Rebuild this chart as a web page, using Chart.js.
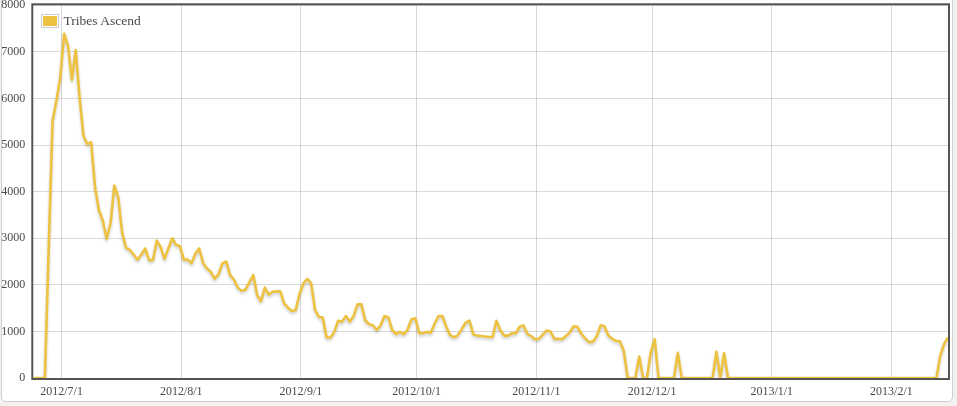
<!DOCTYPE html>
<html>
<head>
<meta charset="utf-8">
<script src="https://cdn.jsdelivr.net/npm/chart.js@4.4.1/dist/chart.umd.min.js"></script>
<style>
html,body{margin:0;padding:0;background:#f1f1f1;width:957px;height:406px;overflow:hidden;}
#frame{position:absolute;left:1px;top:-10px;width:950px;height:410px;border:1px solid #cfcfcf;border-radius:5px;background:#fff;}
#c{position:absolute;left:0;top:0;}
#legend{position:absolute;left:41px;top:14px;font-family:"Liberation Serif",serif;font-size:13.5px;line-height:14px;color:#4a4a4a;display:flex;align-items:center;z-index:2;}
#legend .sw{border:1px solid #ccc;padding:1px;background:#fff;}
#legend .sw div{width:14px;height:10px;}
#legend .tx{margin-left:4.5px;white-space:nowrap;}
</style>
</head>
<body>
<div id="frame"></div>
<canvas id="c" width="957" height="406"></canvas>
<div id="legend"></div>
<script>
// ---- data ----
const seriesLabel = 'Tribes Ascend';
const seriesColor = '#edc240';
const startDate = '2012/6/24';
const utcOffsetHours = 8;
const monthLabels = ['2012/7/1','2012/8/1','2012/9/1','2012/10/1','2012/11/1','2012/12/1','2013/1/1','2013/2/1'];
const yTickStep = 1000;
const yMax = 8000;
// daily values from startDate
const visitors = [
  0,0,0,0,2800,5520,5950,6450,7390,7130,
  6400,7040,6020,5200,5020,5060,4100,3600,3380,2990,
  3310,4130,3880,3130,2800,2750,2650,2540,2650,2780,
  2530,2530,2950,2810,2560,2780,3000,2860,2830,2540,
  2540,2460,2670,2780,2470,2350,2280,2130,2230,2460,
  2500,2210,2110,1940,1870,1900,2060,2210,1780,1650,
  1940,1790,1850,1860,1860,1600,1510,1440,1460,1810,
  2030,2130,2030,1460,1310,1300,870,870,990,1230,
  1210,1330,1210,1330,1580,1580,1240,1160,1130,1030,
  1130,1330,1300,1030,940,990,940,1040,1260,1280,
  960,960,990,970,1170,1330,1330,1100,920,870,
  920,1050,1190,1230,940,910,900,890,880,880,
  1230,1030,910,910,960,960,1100,1130,950,900,
  830,840,930,1020,1000,840,840,830,900,980,
  1110,1100,950,850,770,780,900,1130,1110,910,
  840,800,790,580,0,0,0,460,0,0,
  550,830,0,0,0,0,0,540,0,0,
  0,0,0,0,0,0,0,565,0,530,
  0,0,0,0,0,0,0,0,0,0,
  0,0,0,0,0,0,0,0,0,0,
  0,0,0,0,0,0,0,0,0,0,
  0,0,0,0,0,0,0,0,0,0,
  0,0,0,0,0,0,0,0,0,0,
  0,0,0,0,0,480,730,870
];

// ---- helpers ----
const DAY = 86400000;
function parseUTC(label){ const p = label.split('/').map(Number); return Date.UTC(p[0], p[1]-1, p[2]); }
const t0 = parseUTC(startDate);
function dayOf(label){ return (parseUTC(label) - t0) / DAY; }
const points = visitors.map((v, i) => ({ x: i - utcOffsetHours / 24, y: v }));

// legend (html, like the original)
document.getElementById('legend').innerHTML =
  '<div class="sw"><div style="background:' + seriesColor + '"></div></div><div class="tx"></div>';
document.querySelector('#legend .tx').textContent = seriesLabel;

const tickFont = { family: '"Liberation Serif", serif', size: 12 };
const tickColor = '#4a4a4a';
const gridColor = 'rgba(84,84,84,0.22)';

const framePlugin = {
  id: 'frame',
  beforeDatasetsDraw(chart) {
    const { ctx, chartArea: a } = chart;
    ctx.save();
    ctx.strokeStyle = '#545454';
    ctx.lineWidth = 2;
    ctx.strokeRect(a.left - 1, a.top - 1, a.right - a.left + 2, a.bottom - a.top + 2);
    ctx.restore();
  }
};
const shadowPlugin = {
  id: 'lineShadow',
  beforeDatasetDraw(chart) {
    const c = chart.ctx;
    c.save();
    c.shadowColor = 'rgba(0,0,0,0.2)';
    c.shadowBlur = 3;
    c.shadowOffsetY = 2;
  },
  afterDatasetDraw(chart) { chart.ctx.restore(); }
};

new Chart(document.getElementById('c').getContext('2d'), {
  type: 'line',
  data: {
    datasets: [{
      label: seriesLabel,
      data: points,
      borderColor: seriesColor,
      backgroundColor: seriesColor,
      borderWidth: 2.6,
      borderJoinStyle: 'round',
      pointRadius: 0,
      tension: 0,
      fill: false
    }]
  },
  options: {
    responsive: false,
    animation: false,
    layout: { padding: { top: 5.3, right: 9, left: 0, bottom: 0 } },
    plugins: { legend: { display: false }, tooltip: { enabled: false } },
    scales: {
      x: {
        type: 'linear',
        min: points[0].x,
        max: points[points.length - 1].x,
        afterBuildTicks: s => { s.ticks = monthLabels.map(l => ({ value: dayOf(l) })); },
        ticks: {
          autoSkip: false, maxRotation: 0, minRotation: 0, padding: 7,
          font: tickFont, color: tickColor,
          callback: (v, i) => monthLabels[i]
        },
        grid: { color: gridColor, lineWidth: 1, drawTicks: false },
        border: { display: false },
        afterFit: s => { s.height = 28; s.paddingLeft = 0; s.paddingRight = 0; }
      },
      y: {
        min: 0,
        max: yMax,
        ticks: {
          stepSize: yTickStep, padding: 8,
          font: tickFont, color: tickColor,
          callback: v => String(v)
        },
        grid: { color: gridColor, lineWidth: 1, drawTicks: false },
        border: { display: false },
        afterFit: s => { s.width = 33.3; s.paddingTop = 0; s.paddingBottom = 0; }
      }
    }
  },
  plugins: [framePlugin, shadowPlugin]
});
</script>
</body>
</html>
